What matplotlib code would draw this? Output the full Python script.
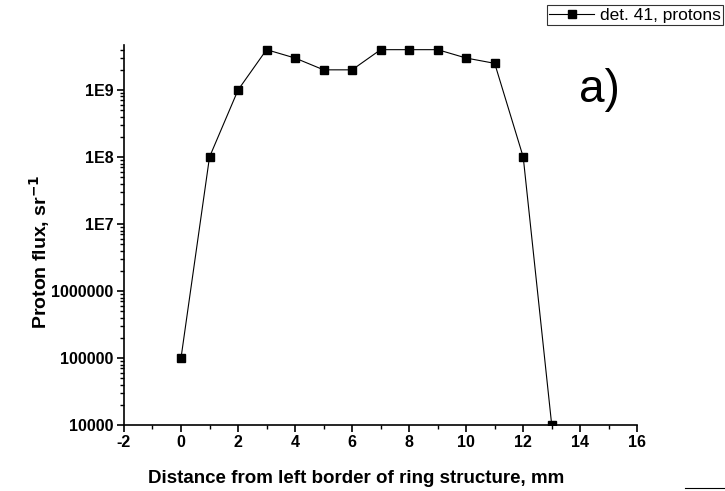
import matplotlib.pyplot as plt
from matplotlib.ticker import FixedLocator, LogLocator, MultipleLocator, NullFormatter
from matplotlib.lines import Line2D

plt.rcParams['font.family'] = ['Liberation Sans', 'DejaVu Sans']

# data
distance = [0, 1, 2, 3, 4, 5, 6, 7, 8, 9, 10, 11, 12, 13]
flux = [1e5, 1e8, 1e9, 4e9, 3e9, 2e9, 2e9, 4e9, 4e9, 4e9, 3e9, 2.5e9, 1e8, 1e4]
ytick_vals = [1e4, 1e5, 1e6, 1e7, 1e8, 1e9]
ytick_labels = ['10000', '100000', '1000000', '1E7', '1E8', '1E9']
xtick_vals = [-2, 0, 2, 4, 6, 8, 10, 12, 14, 16]

fig = plt.figure(figsize=(7.25, 4.91), dpi=100)
ax = fig.add_axes([0.171, 0.1344, 0.708, 0.774])

ax.plot(distance, flux, color='black', lw=0.8, marker='s', markersize=6,
        label='det. 41, protons')

ax.set_yscale('log')
ax.set_xlim(-2, 16)
ax.set_ylim(1e4, 4.7e9)

ax.spines['top'].set_visible(False)
ax.spines['right'].set_visible(False)
ax.spines['left'].set_linewidth(1.2)
ax.spines['bottom'].set_linewidth(1.2)

ax.yaxis.set_major_locator(FixedLocator(ytick_vals))
ax.set_yticklabels(ytick_labels, fontweight='bold', fontsize=11.5)
ax.yaxis.set_minor_locator(LogLocator(base=10, subs=range(2, 10), numticks=20))
ax.yaxis.set_minor_formatter(NullFormatter())

ax.set_xticks(xtick_vals)
ax.set_xticklabels([str(v) for v in xtick_vals], fontweight='bold', fontsize=11.5)
ax.xaxis.set_minor_locator(MultipleLocator(1))

ax.tick_params(which='major', direction='out', length=5, width=1.2, pad=2.5)
ax.tick_params(which='minor', direction='out', length=3, width=1)

ax.set_xlabel('Distance from left border of ring structure, mm',
              fontweight='bold', fontsize=13.5)
ax.xaxis.set_label_coords(0.452, -0.118)
ax.set_ylabel(r'Proton flux, sr$^{\mathbf{-1}}$', fontweight='bold', fontsize=14)
ax.yaxis.set_label_coords(-0.140, 0.455)

ax.text(599 / 725, 1 - 90 / 491, 'a)', transform=fig.transFigure, fontsize=33,
        ha='center', va='center')

leg = ax.legend(loc='upper right', bbox_to_anchor=(723 / 725, 1 - 5 / 491),
                bbox_transform=fig.transFigure, fontsize=12.5, frameon=True,
                fancybox=False, edgecolor='black', borderpad=0.15,
                handlelength=2.6, handletextpad=0.3, borderaxespad=0,
                markerscale=0.85)
leg.get_frame().set_linewidth(0.8)

# fragment of a neighbouring box at the bottom right
fig.add_artist(Line2D([685 / 725, 1.0], [1 - 488 / 491, 1 - 488 / 491],
                      color='black', lw=0.8, transform=fig.transFigure))

fig.savefig('out.png', dpi=100)
